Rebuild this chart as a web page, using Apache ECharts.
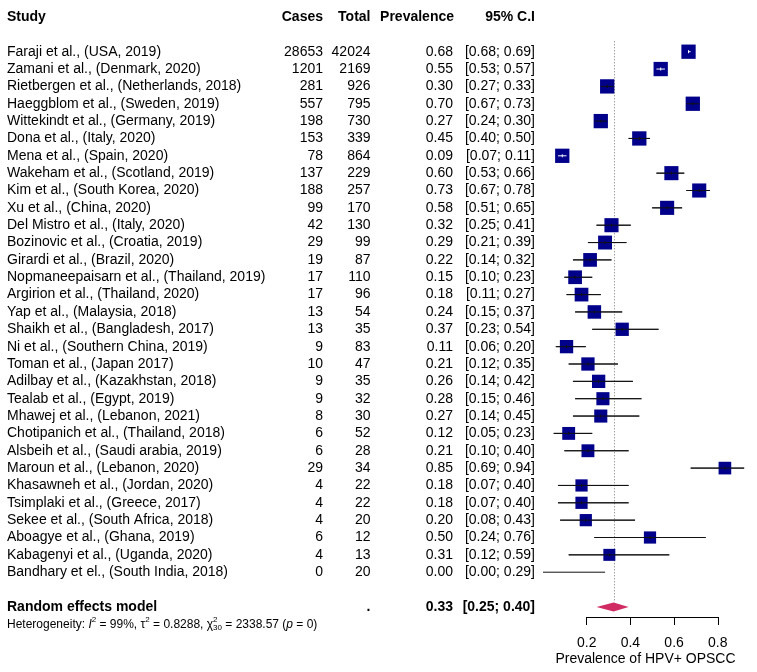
<!DOCTYPE html>
<html><head><meta charset="utf-8">
<script src="https://cdn.jsdelivr.net/npm/echarts@6/dist/echarts.min.js"></script>
<style>html,body{margin:0;padding:0;background:#fff}#c{width:757px;height:672px}</style>
</head><body><div id="c"></div>
<script>
// ---------------- DATA ----------------
const studies = [
  'Faraji et al., (USA, 2019)', 'Zamani et al., (Denmark, 2020)', 'Rietbergen et al., (Netherlands, 2018)',
  'Haeggblom et al., (Sweden, 2019)', 'Wittekindt et al., (Germany, 2019)', 'Dona et al., (Italy, 2020)',
  'Mena et al., (Spain, 2020)', 'Wakeham et al., (Scotland, 2019)', 'Kim et al., (South Korea, 2020)',
  'Xu et al., (China, 2020)', 'Del Mistro et al., (Italy, 2020)', 'Bozinovic et al., (Croatia, 2019)',
  'Girardi et al., (Brazil, 2020)', 'Nopmaneepaisarn et al., (Thailand, 2019)', 'Argirion et al., (Thailand, 2020)',
  'Yap et al., (Malaysia, 2018)', 'Shaikh et al., (Bangladesh, 2017)', 'Ni et al., (Southern China, 2019)',
  'Toman et al., (Japan 2017)', 'Adilbay et al., (Kazakhstan, 2018)', 'Tealab et al., (Egypt, 2019)',
  'Mhawej et al., (Lebanon, 2021)', 'Chotipanich et al., (Thailand, 2018)', 'Alsbeih et al., (Saudi arabia, 2019)',
  'Maroun et al., (Lebanon, 2020)', 'Khasawneh et al., (Jordan, 2020)', 'Tsimplaki et al., (Greece, 2017)',
  'Sekee et al., (South Africa, 2018)', 'Aboagye et al., (Ghana, 2019)', 'Kabagenyi et al., (Uganda, 2020)',
  'Bandhary et el., (South India, 2018)'
];
const cases = [28653, 1201, 281, 557, 198, 153, 78, 137, 188, 99, 42, 29, 19, 17, 17, 13, 13, 9, 10, 9, 9, 8, 6, 6, 29, 4, 4, 4, 6, 4, 0];
const totals = [42024, 2169, 926, 795, 730, 339, 864, 229, 257, 170, 130, 99, 87, 110, 96, 54, 35, 83, 47, 35, 32, 30, 52, 28, 34, 22, 22, 20, 12, 13, 20];
const prevalence = [0.68, 0.55, 0.30, 0.70, 0.27, 0.45, 0.09, 0.60, 0.73, 0.58, 0.32, 0.29, 0.22, 0.15, 0.18, 0.24, 0.37, 0.11, 0.21, 0.26, 0.28, 0.27, 0.12, 0.21, 0.85, 0.18, 0.18, 0.20, 0.50, 0.31, 0.00];
const ciLower = [0.68, 0.53, 0.27, 0.67, 0.24, 0.40, 0.07, 0.53, 0.67, 0.51, 0.25, 0.21, 0.14, 0.10, 0.11, 0.15, 0.23, 0.06, 0.12, 0.14, 0.15, 0.14, 0.05, 0.10, 0.69, 0.07, 0.07, 0.08, 0.24, 0.12, 0.00];
const ciUpper = [0.69, 0.57, 0.33, 0.73, 0.30, 0.50, 0.11, 0.66, 0.78, 0.65, 0.41, 0.39, 0.32, 0.23, 0.27, 0.37, 0.54, 0.20, 0.35, 0.42, 0.46, 0.45, 0.23, 0.40, 0.94, 0.40, 0.40, 0.43, 0.76, 0.59, 0.29];
// random-effects weights (%); no box drawn for the last study
const weights = [3.7, 3.7, 3.7, 3.7, 3.7, 3.7, 3.7, 3.6, 3.6, 3.6, 3.6, 3.5, 3.4, 3.4, 3.4, 3.3, 3.2, 3.2, 3.2, 3.2, 3.1, 3.1, 3.0, 3.0, 2.9, 2.7, 2.7, 2.7, 2.7, 2.6, null];
const columnHeaders = ['Study', 'Cases', 'Total', 'Prevalence', '95% C.I'];
const pooledLabel = 'Random effects model';
const pooledEstimate = 0.33;
const pooledLower = 0.25;
const pooledUpper = 0.40;
const hetI2 = '99%';
const hetTau2 = '0.8288';
const hetChi2 = '2338.57';
const hetDf = '30';
const hetP = '0';
const axisTicks = [0.2, 0.4, 0.6, 0.8];
const axisTitle = 'Prevalence of HPV+ OPSCC';

// ---------------- LAYOUT ----------------
const FONT = '"Liberation Sans", Arial, Helvetica, sans-serif';
const ROW_HEADER = -2, ROW_POOLED = studies.length + 1, ROW_HET = studies.length + 2;
const COL = { study: 7, cases: 323, total: 370.5, prev: 453, ci: 535 };
const PX_PER_UNIT = 218.5, X0 = 543;
const BOX = 14.3;
const maxW = Math.max(...weights.filter(w => w != null));
const f2 = v => v.toFixed(2);
const ciText = (l, h) => '[' + f2(l) + '; ' + f2(h) + ']';

function T(x, y, s, align, opt) {
  opt = opt || {};
  return { type: 'text', silent: true, style: {
    x: x, y: y, text: s, align: align, verticalAlign: opt.va || 'middle',
    font: (opt.italic ? 'italic ' : '') + (opt.bold ? 'bold ' : '') + (opt.size || 14) + 'px ' + FONT,
    fill: '#000' } };
}
const measureCtx = document.createElement('canvas').getContext('2d');
function measure(s, font) { measureCtx.font = font; return measureCtx.measureText(s).width; }

const chart = echarts.init(document.getElementById('c'), null, { renderer: 'canvas' });

const option = {
  animation: false,
  backgroundColor: '#fff',
  grid: [
    { left: X0, width: PX_PER_UNIT, top: 17, height: 36 * 17.35 },
    { left: X0 + axisTicks[0] * PX_PER_UNIT, width: (axisTicks[axisTicks.length - 1] - axisTicks[0]) * PX_PER_UNIT, top: 600, height: 17 }
  ],
  xAxis: [
    { gridIndex: 0, type: 'value', min: 0, max: 1, show: false },
    { gridIndex: 1, type: 'value', min: axisTicks[0], max: axisTicks[axisTicks.length - 1], interval: 0.2,
      splitLine: { show: false },
      axisLine: { show: true, lineStyle: { color: '#000', width: 1 } },
      axisTick: { show: true, length: 8, inside: false, lineStyle: { color: '#000', width: 1 } },
      axisLabel: { margin: 19, fontSize: 14, fontFamily: FONT, color: '#000',
                   formatter: v => axisTicks.find(t => Math.abs(t - v) < 1e-6) != null ? v.toFixed(1) : '' } }
  ],
  yAxis: [
    { gridIndex: 0, type: 'value', inverse: true, min: -2, max: 34, show: false },
    { gridIndex: 1, type: 'value', show: false }
  ],
  graphic: [
    { type: 'text', left: 645.5 - measure(axisTitle, '14px ' + FONT) / 2, top: 652,
      style: { text: axisTitle, font: '14px ' + FONT, fill: '#000' } }
  ],
  series: [
    // reference dotted line at pooled estimate
    { type: 'custom', coordinateSystem: 'cartesian2d', xAxisIndex: 0, yAxisIndex: 0, z: 1,
      data: [[pooledEstimate]],
      renderItem: (params, api) => {
        const x = Math.round(api.coord([api.value(0), 0])[0]) + 0.5;
        const y1 = api.coord([0, -0.6])[1];
        const y2 = api.coord([0, ROW_POOLED])[1] - 4.5;
        return { type: 'line', shape: { x1: x, y1: y1, x2: x, y2: y2 },
                 style: { stroke: '#777', lineWidth: 1, lineDash: [1, 2] } };
      } },
    // study CIs and boxes
    { type: 'custom', coordinateSystem: 'cartesian2d', xAxisIndex: 0, yAxisIndex: 0, z: 3,
      data: prevalence.map((p, i) => [i, p, ciLower[i], ciUpper[i], weights[i] == null ? -1 : weights[i]]),
      renderItem: (params, api) => {
        const y = api.coord([0, api.value(0)])[1];
        const xe = api.coord([api.value(1), 0])[0];
        const xl = api.coord([api.value(2), 0])[0];
        const xh = api.coord([api.value(3), 0])[0];
        const w = api.value(4);
        const kids = [{ type: 'line', shape: { x1: xl, y1: y, x2: xh, y2: y }, style: { stroke: '#111', lineWidth: 1 } }];
        if (w > 0) {
          const s = BOX * Math.sqrt(w / maxW);
          kids.push({ type: 'rect', shape: { x: xe - s / 2, y: y - s / 2, width: s, height: s }, style: { fill: '#00008B' } });
          const col = (xh - xl) < s - 1.5 ? '#fff' : '#111';
          kids.push({ type: 'line', shape: { x1: xl, y1: y, x2: xh, y2: y }, style: { stroke: col, lineWidth: 1 } });
          kids.push({ type: 'line', shape: { x1: xe, y1: y - 1.5, x2: xe, y2: y + 1.5 }, style: { stroke: col, lineWidth: 1 } });
        }
        return { type: 'group', children: kids };
      } },
    // pooled diamond
    { type: 'custom', coordinateSystem: 'cartesian2d', xAxisIndex: 0, yAxisIndex: 0, z: 3,
      data: [[ROW_POOLED, pooledEstimate, pooledLower, pooledUpper]],
      renderItem: (params, api) => {
        const y = api.coord([0, api.value(0)])[1];
        const xe = api.coord([api.value(1), 0])[0];
        const xl = api.coord([api.value(2), 0])[0];
        const xh = api.coord([api.value(3), 0])[0];
        return { type: 'polygon', shape: { points: [[xl, y], [xe, y - 4.5], [xh, y], [xe, y + 4.5]] },
                 style: { fill: '#D02B62' } };
      } },
    // study text columns
    { type: 'custom', coordinateSystem: 'cartesian2d', xAxisIndex: 0, yAxisIndex: 0, z: 2,
      data: studies.map((s, i) => [i]),
      renderItem: (params, api) => {
        const i = params.dataIndex;
        const y = api.coord([0, api.value(0)])[1];
        return { type: 'group', children: [
          T(COL.study, y, studies[i], 'left'),
          T(COL.cases, y, String(cases[i]), 'right'),
          T(COL.total, y, String(totals[i]), 'right'),
          T(COL.prev, y, f2(prevalence[i]), 'right'),
          T(COL.ci, y, ciText(ciLower[i], ciUpper[i]), 'right')
        ] };
      } },
    // header, pooled row, heterogeneity
    { type: 'custom', coordinateSystem: 'cartesian2d', xAxisIndex: 0, yAxisIndex: 0, z: 2,
      data: [[ROW_HEADER], [ROW_POOLED], [ROW_HET]],
      renderItem: (params, api) => {
        const row = api.value(0);
        const y = api.coord([0, row])[1];
        if (row === ROW_HEADER) {
          const b = { bold: true };
          return { type: 'group', children: [
            T(COL.study, y, columnHeaders[0], 'left', b),
            T(COL.cases, y, columnHeaders[1], 'right', b),
            T(COL.total, y, columnHeaders[2], 'right', b),
            T(COL.prev + 1, y, columnHeaders[3], 'right', b),
            T(COL.ci, y, columnHeaders[4], 'right', b)
          ] };
        }
        if (row === ROW_POOLED) {
          const b = { bold: true };
          return { type: 'group', children: [
            T(COL.study, y, pooledLabel, 'left', b),
            T(COL.total, y, '.', 'right', b),
            T(COL.prev, y, f2(pooledEstimate), 'right', b),
            T(COL.ci, y, ciText(pooledLower, pooledUpper), 'right', b)
          ] };
        }
        // heterogeneity line with super/subscripts
        const runs = [
          { s: 'Heterogeneity: ', size: 12 },
          { s: 'I', size: 12, italic: true },
          { s: '2', size: 8, dy: -4 },
          { s: ' = ' + hetI2 + ', \u03C4', size: 12 },
          { s: '2', size: 8, dy: -4 },
          { s: ' = ' + hetTau2 + ', \u03C7', size: 12 },
          { s: '2', size: 8, dy: -4, noAdvance: true },
          { s: hetDf, size: 8, dy: 4 },
          { s: ' = ' + hetChi2 + ' (', size: 12 },
          { s: 'p', size: 12, italic: true },
          { s: ' = ' + hetP + ')', size: 12 }
        ];
        let x = COL.study;
        const kids = [];
        runs.forEach(r => {
          const font = (r.italic ? 'italic ' : '') + r.size + 'px ' + FONT;
          kids.push(T(x, y + (r.dy || 0), r.s, 'left', { size: r.size, italic: r.italic }));
          if (!r.noAdvance) x += measure(r.s, font);
        });
        return { type: 'group', children: kids };
      } }
  ]
};
chart.setOption(option);
</script>
</body></html>
